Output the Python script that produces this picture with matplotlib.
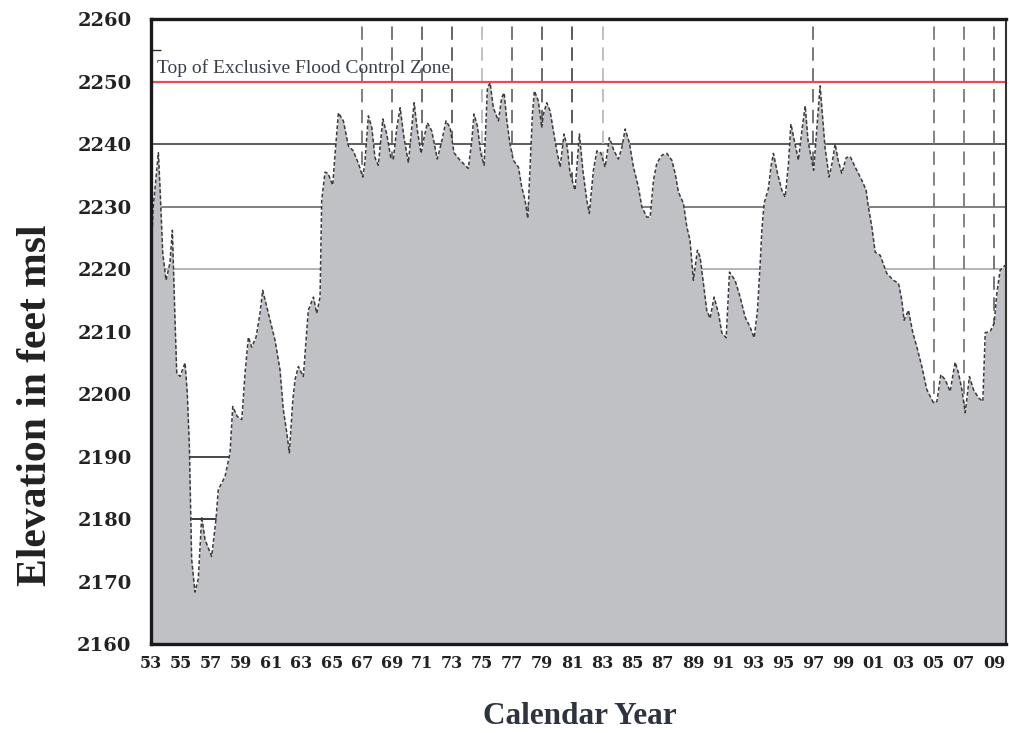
import numpy as np
import matplotlib
matplotlib.use("Agg")
import matplotlib.pyplot as plt
from matplotlib.ticker import FixedLocator

# reservoir elevation (decimal year, feet msl)
years = [
    1953.00, 1953.15, 1953.49, 1953.60, 1953.78, 1954.00, 1954.26, 1954.42, 1954.59, 1954.71,
    1954.93, 1955.26, 1955.41, 1955.55, 1955.70, 1955.92, 1956.14, 1956.37, 1956.59, 1957.03,
    1957.32, 1957.47, 1957.92, 1958.25, 1958.43, 1958.73, 1959.03, 1959.25, 1959.47, 1959.69,
    1959.98, 1960.24, 1960.42, 1960.79, 1961.24, 1961.57, 1961.79, 1962.02, 1962.19, 1962.42,
    1962.57, 1962.79, 1963.12, 1963.30, 1963.45, 1963.79, 1964.01, 1964.23, 1964.34, 1964.56,
    1964.76, 1965.07, 1965.23, 1965.45, 1965.78, 1966.11, 1966.44, 1966.78, 1967.07, 1967.22,
    1967.44, 1967.67, 1967.88, 1968.10, 1968.40, 1968.66, 1968.93, 1969.10, 1969.33, 1969.55,
    1969.81, 1970.10, 1970.32, 1970.48, 1970.70, 1970.94, 1971.14, 1971.36, 1971.65, 1972.02,
    1972.32, 1972.60, 1972.87, 1973.13, 1973.53, 1974.08, 1974.31, 1974.46, 1974.68, 1974.91,
    1975.13, 1975.35, 1975.53, 1975.74, 1976.08, 1976.30, 1976.46, 1976.64, 1976.85, 1977.07,
    1977.41, 1977.63, 1977.85, 1978.03, 1978.18, 1978.34, 1978.47, 1978.73, 1978.96, 1979.07,
    1979.29, 1979.51, 1979.73, 1979.96, 1980.18, 1980.44, 1980.66, 1980.84, 1981.17, 1981.46,
    1981.69, 1981.95, 1982.12, 1982.39, 1982.62, 1982.88, 1983.17, 1983.45, 1983.76, 1984.05,
    1984.28, 1984.50, 1984.78, 1985.05, 1985.38, 1985.61, 1985.94, 1986.16, 1986.38, 1986.60,
    1986.93, 1987.27, 1987.60, 1987.82, 1988.04, 1988.37, 1988.60, 1988.81, 1989.03, 1989.30,
    1989.48, 1989.70, 1989.92, 1990.14, 1990.41, 1990.70, 1990.92, 1991.21, 1991.43, 1991.80,
    1992.14, 1992.47, 1992.80, 1993.07, 1993.29, 1993.47, 1993.58, 1993.73, 1994.02, 1994.18,
    1994.35, 1994.62, 1994.91, 1995.13, 1995.35, 1995.51, 1995.79, 1996.01, 1996.24, 1996.46,
    1996.65, 1997.02, 1997.25, 1997.45, 1997.78, 1998.05, 1998.25, 1998.45, 1998.65, 1998.89,
    1999.18, 1999.45, 1999.78, 2000.22, 2000.51, 2000.66, 2000.89, 2001.11, 2001.44, 2001.88,
    2002.32, 2002.66, 2002.88, 2003.03, 2003.32, 2003.61, 2003.88, 2004.21, 2004.54, 2004.98,
    2005.21, 2005.47, 2005.76, 2006.09, 2006.42, 2006.64, 2006.87, 2007.09, 2007.37, 2007.64,
    2007.97, 2008.26, 2008.42, 2008.75, 2009.01, 2009.19, 2009.41, 2009.74,
]
elevation = [
    2222.0, 2230.0, 2238.6, 2233.0, 2222.5, 2218.2, 2221.0, 2226.2, 2212.3, 2203.4,
    2202.8, 2205.0, 2200.2, 2191.6, 2173.6, 2168.3, 2170.4, 2180.4, 2176.7, 2174.0,
    2180.0, 2184.7, 2186.8, 2190.6, 2198.0, 2196.4, 2195.9, 2203.4, 2209.1, 2207.5,
    2209.1, 2212.9, 2216.6, 2213.0, 2208.6, 2203.9, 2197.5, 2193.8, 2190.6, 2199.0,
    2202.3, 2204.4, 2202.8, 2208.6, 2213.4, 2215.5, 2212.9, 2215.5, 2231.0, 2235.5,
    2235.3, 2233.4, 2238.5, 2245.0, 2243.7, 2239.7, 2238.9, 2236.9, 2234.7, 2237.4,
    2244.5, 2242.6, 2237.8, 2236.6, 2244.0, 2241.6, 2237.8, 2237.6, 2242.6, 2245.8,
    2241.0, 2237.0, 2242.6, 2246.6, 2242.1, 2238.5, 2241.0, 2243.4, 2242.1, 2237.6,
    2240.5, 2243.7, 2242.6, 2238.6, 2237.4, 2236.1, 2240.5, 2244.8, 2242.9, 2238.5,
    2236.6, 2249.0, 2249.8, 2245.8, 2243.7, 2247.4, 2248.2, 2243.7, 2240.0, 2237.4,
    2236.3, 2233.1, 2231.0, 2228.1, 2236.3, 2244.8, 2248.5, 2246.9, 2242.6, 2244.8,
    2246.6, 2245.3, 2242.1, 2238.9, 2236.3, 2241.6, 2239.4, 2235.3, 2232.6, 2241.6,
    2235.8, 2231.0, 2228.9, 2235.8, 2238.9, 2238.6, 2236.3, 2241.0, 2238.9, 2237.6,
    2239.4, 2242.4, 2240.2, 2236.3, 2233.1, 2229.9, 2228.3, 2228.3, 2234.2, 2236.9,
    2238.2, 2238.5, 2237.4, 2235.3, 2232.3, 2230.5, 2226.7, 2224.6, 2218.2, 2223.0,
    2221.9, 2217.7, 2213.4, 2212.1, 2215.5, 2212.9, 2209.8, 2209.0, 2219.5, 2218.2,
    2215.5, 2212.3, 2210.7, 2209.0, 2213.4, 2220.9, 2226.2, 2230.5, 2232.9, 2236.3,
    2238.5, 2235.3, 2232.6, 2231.5, 2236.9, 2243.2, 2240.0, 2237.4, 2242.1, 2246.1,
    2240.5, 2235.8, 2243.0, 2249.3, 2239.4, 2234.7, 2237.0, 2240.0, 2237.4, 2235.3,
    2237.8, 2238.0, 2236.3, 2234.2, 2232.6, 2229.9, 2226.7, 2222.7, 2222.2, 2219.3,
    2218.2, 2217.7, 2215.0, 2211.8, 2213.4, 2209.8, 2207.5, 2204.4, 2200.7, 2198.6,
    2198.8, 2203.1, 2202.3, 2200.4, 2205.1, 2203.4, 2200.7, 2197.0, 2202.8, 2200.7,
    2199.4, 2198.8, 2209.8, 2210.0, 2211.3, 2216.1, 2219.8, 2220.6,
]

flood_zone_top = 2250
flood_zone_label = "Top of Exclusive Flood Control Zone"

label_years = list(range(1953, 2010, 2))
marked_years = [1967, 1969, 1971, 1973, 1975, 1977, 1979, 1981, 1983, 1997, 2005, 2007, 2009]
marked_colors = ["#6a6a6a", "#606060", "#555555", "#4a4a4a", "#b5b5b5", "#606060", "#505050",
                 "#404040", "#b5b5b5", "#606060", "#707070", "#707070", "#606060"]
grid_levels = [2240, 2230, 2220, 2190, 2180]
grid_colors = ["#5c5c5c", "#808080", "#b4b4b4", "#4a4a4a", "#3a3a3a"]
left_ticks = [2255, 2205, 2195, 2190, 2180, 2170, 2165]

fig = plt.figure(figsize=(10.09, 7.33), dpi=100)
ax = fig.add_axes([151 / 1009, 1 - 644 / 733, (1006 - 151) / 1009, (644 - 19) / 733])

# gridlines sit behind the filled area
for lvl, c in zip(grid_levels, grid_colors):
    ax.axhline(lvl, color=c, lw=1.4, zorder=1)
for yr, c in zip(marked_years, marked_colors):
    ax.axvline(yr, color=c, lw=1.2, dashes=(8, 4.5), zorder=1)

ax.fill_between(years, 2150, elevation, color="#c0c1c5", lw=0, zorder=2)
ax.plot(years, elevation, color="#3a3a3a", lw=1.1, dashes=(2.5, 1.5), zorder=3)

ax.axhline(flood_zone_top, color="#ec4a50", lw=1.6, zorder=4)
ax.text(1953.4, 2251.4, flood_zone_label, fontsize=14, family="Liberation Serif",
        color="#3a3f4a", ha="left", va="baseline", zorder=5)

ax.set_xlim(1953, 2009.8)
ax.set_ylim(2160, 2260)

ax.set_xticks(label_years)
ax.set_xticklabels([f"{y % 100:02d}" for y in label_years])
ax.set_yticks(range(2160, 2261, 10))
ax.tick_params(axis="both", which="major", length=0)
ax.tick_params(axis="x", which="major", pad=8, labelsize=11.5, labelcolor="#222222")
ax.tick_params(axis="y", which="major", pad=14, labelsize=14, labelcolor="#222222")
for lab in ax.get_xticklabels() + ax.get_yticklabels():
    lab.set_family("DejaVu Serif")
    lab.set_fontweight("bold")

ax.xaxis.set_minor_locator(FixedLocator(marked_years))
ax.yaxis.set_minor_locator(FixedLocator(left_ticks))
ax.tick_params(axis="x", which="minor", direction="in", length=7, width=1, color="#555555")
ax.tick_params(axis="y", which="minor", direction="in", length=7, width=1, color="#333333")

for side in ["left", "bottom", "top"]:
    ax.spines[side].set_linewidth(2.4)
    ax.spines[side].set_color("#1a1a1a")
ax.spines["right"].set_linewidth(1.5)
ax.spines["right"].set_color("#333333")
for sp in ax.spines.values():
    sp.set_zorder(6)

fig.text(36 / 1009, 1 - 405 / 733, "Elevation in feet msl", rotation=90, fontsize=30,
         family="Liberation Serif", fontweight="bold", color="#222222", ha="center", va="center")
fig.text(580 / 1009, 1 - 716 / 733, "Calendar Year", fontsize=22.5,
         family="Liberation Serif", fontweight="bold", color="#2e333d", ha="center", va="center")

fig.savefig("out.png", dpi=100)
